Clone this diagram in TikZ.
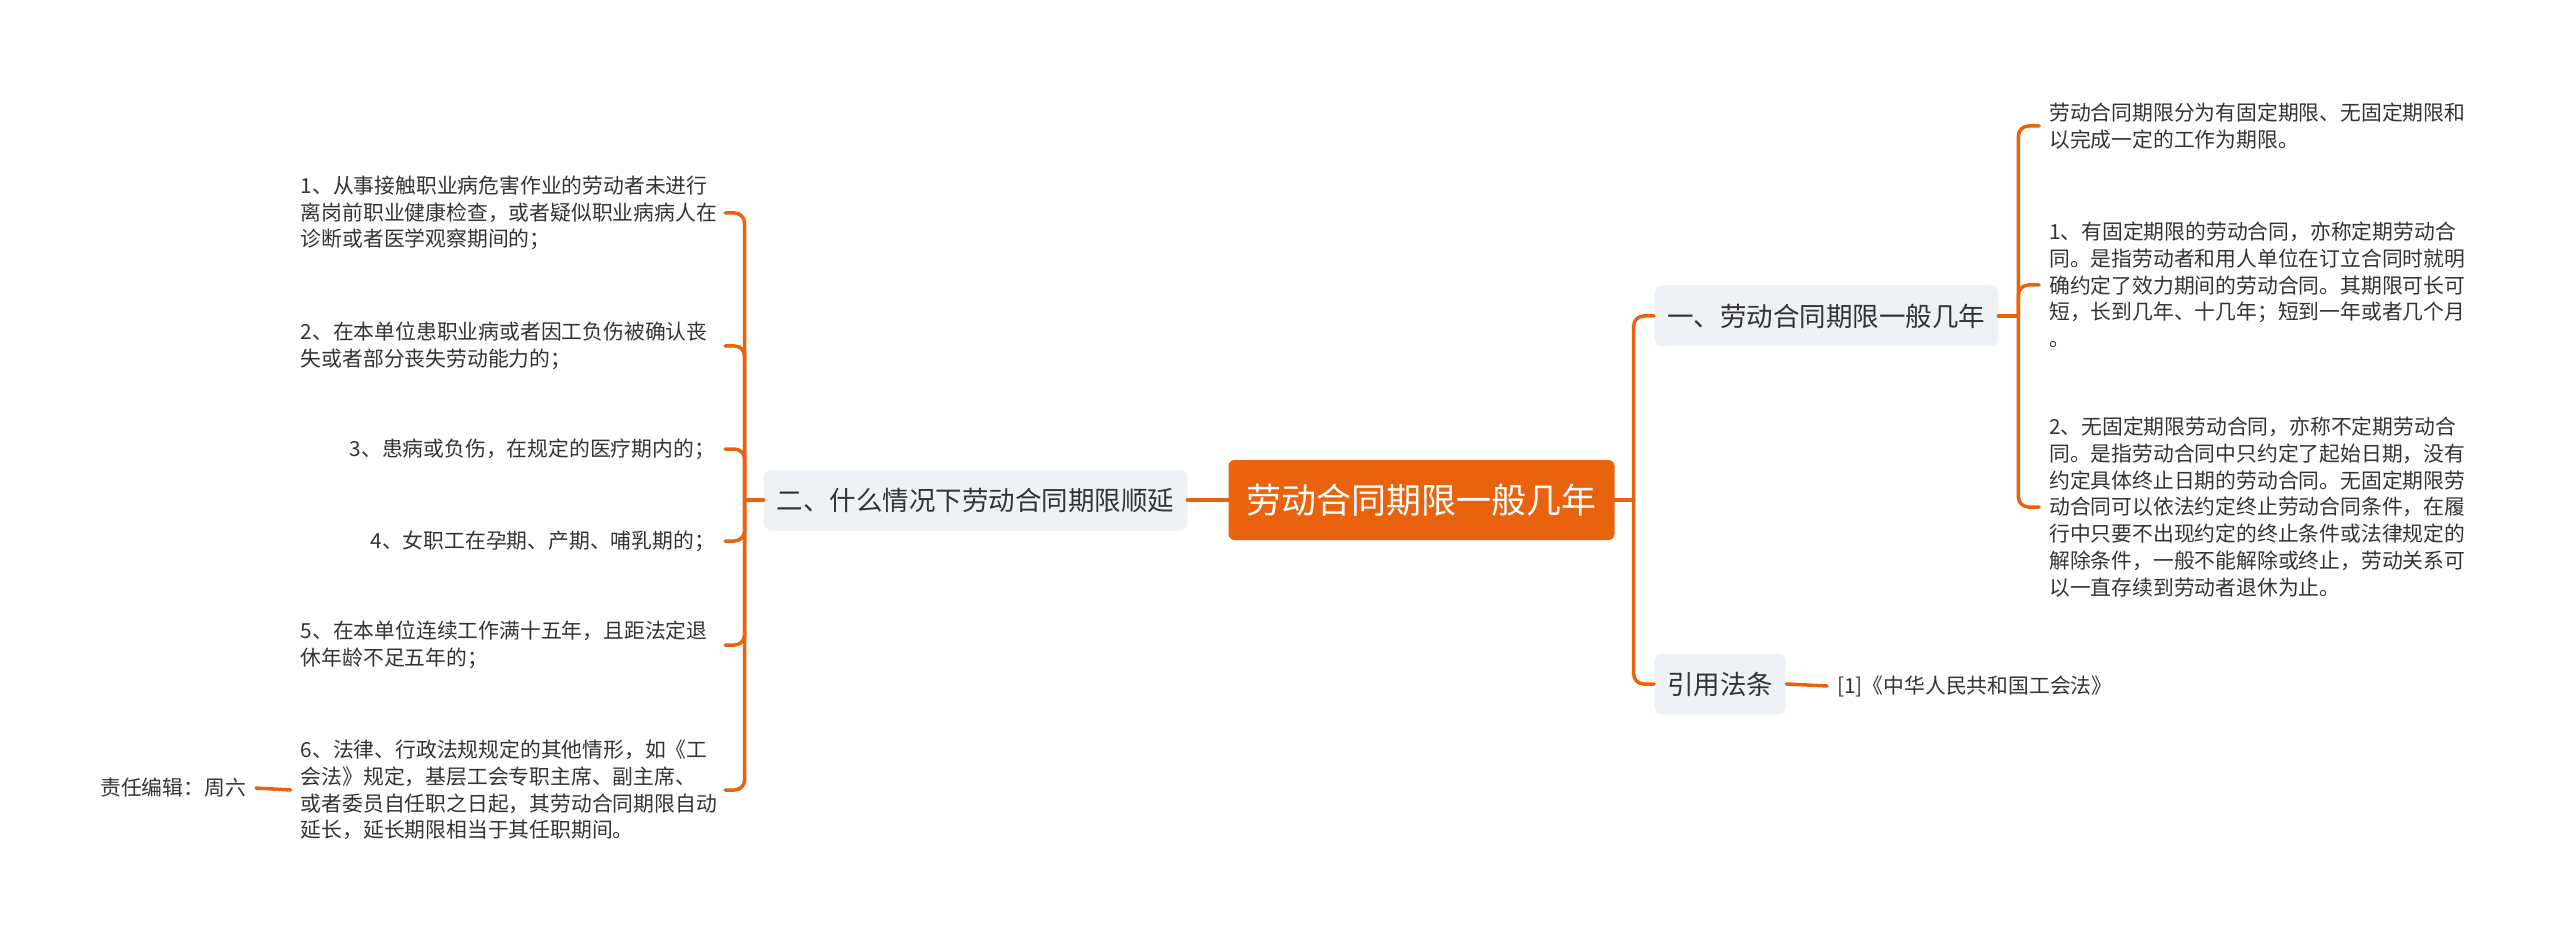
\documentclass[tikz,border=0pt]{standalone}
\usepackage{fontspec}
\setmainfont{Noto Sans CJK SC}
\definecolor{zhuse}{RGB}{233,98,14}
\definecolor{huise}{RGB}{238,241,245}
\definecolor{wenzi}{RGB}{51,51,51}

\begin{document}
\begin{tikzpicture}[
  x=1pt,
  y=-1pt,
  line cap=round,
  line join=round,
  link/.style={draw=zhuse, line width=3.5pt, rounded corners=10pt},
  root/.style={fill=zhuse, text=white, rounded corners=6pt,
    inner xsep=18pt, minimum height=80pt,
    font=\fontsize{35}{40}\selectfont},
  branch/.style={fill=huise, text=wenzi, rounded corners=8pt,
    inner xsep=13pt, minimum height=61pt,
    font=\fontsize{26.5}{30}\selectfont},
  leaf/.style={text=wenzi, align=left, inner xsep=10pt, inner ysep=0pt,
    font=\fontsize{20.8}{26.7}\selectfont},
  wrapleaf/.style={leaf, text width=414pt}
]
  \useasboundingbox (0,0) rectangle (2560,941);

  % 中心主题
  \node[root] (root) at (1421.5,500) {劳动合同期限一般几年};

  % 左侧分支
  \node[branch] (shunyan) at (975.5,500) {二、什么情况下劳动合同期限顺延};

  \node[wrapleaf, anchor=east] (l1) at (725,213) {1、从事接触职业病危害作业的劳动者未进行\\
    离岗前职业健康检查，或者疑似职业病病人在\\诊断或者医学观察期间的；};
  \node[wrapleaf, anchor=east] (l2) at (725,346) {2、在本单位患职业病或者因工负伤被确认丧\\
    失或者部分丧失劳动能力的；};
  \node[leaf, anchor=east] (l3) at (725,449) {3、患病或负伤，在规定的医疗期内的；};
  \node[leaf, anchor=east] (l4) at (725,541) {4、女职工在孕期、产期、哺乳期的；};
  \node[wrapleaf, anchor=east] (l5) at (725,645) {5、在本单位连续工作满十五年，且距法定退\\
    休年龄不足五年的；};
  \node[wrapleaf, anchor=east] (l6) at (725,790) {6、法律、行政法规规定的其他情形，如《工\\
    会法》规定，基层工会专职主席、副主席、\\
    或者委员自任职之日起，其劳动合同期限自动\\
    延长，延长期限相当于其任职期间。};

  \node[leaf, anchor=east] (editor) at (256,788) {责任编辑：周六};

  % 右侧分支
  \node[branch, anchor=west] (qixian) at (1654,316) {一、劳动合同期限一般几年};
  \node[branch, anchor=west] (fatiao) at (1654,684) {引用法条};

  \node[leaf, anchor=west] (r1) at (2039,126) {劳动合同期限分为有固定期限、无固定期限和\\
    以完成一定的工作为期限。};
  \node[leaf, anchor=west] (r2) at (2039,285) {1、有固定期限的劳动合同，亦称定期劳动合\\
    同。是指劳动者和用人单位在订立合同时就明\\
    确约定了效力期间的劳动合同。其期限可长可\\
    短，长到几年、十几年；短到一年或者几个月\\。};
  \node[leaf, anchor=west] (r3) at (2039,507) {2、无固定期限劳动合同，亦称不定期劳动合\\
    同。是指劳动合同中只约定了起始日期，没有\\
    约定具体终止日期的劳动合同。无固定期限劳\\
    动合同可以依法约定终止劳动合同条件，在履\\
    行中只要不出现约定的终止条件或法律规定的\\
    解除条件，一般不能解除或终止，劳动关系可\\
    以一直存续到劳动者退休为止。};

  \node[leaf, anchor=west] (law) at (1827,686) {[1]《中华人民共和国工会法》};

  % 连线
  \path (shunyan.west) ++(-19,0) coordinate (ls);
  \path (root.east) ++(19,0) coordinate (rs);
  \path (qixian.east) ++(20,0) coordinate (qs);

  \draw[link] (root.west) -- (shunyan.east);
  \draw[link] (shunyan.west) -- (ls);
  \foreach \n in {l1,l2,l3,l4,l5,l6}
    \draw[link] (ls) |- (\n.east);
  \draw[link] (l6.west) -- (editor.east);

  \draw[link] (root.east) -- (rs);
  \draw[link] (rs) |- (qixian.west);
  \draw[link] (rs) |- (fatiao.west);

  \draw[link] (qixian.east) -- (qs);
  \foreach \n in {r1,r2,r3}
    \draw[link] (qs) |- (\n.west);
  \draw[link] (fatiao.east) -- (law.west);
\end{tikzpicture}
\end{document}
